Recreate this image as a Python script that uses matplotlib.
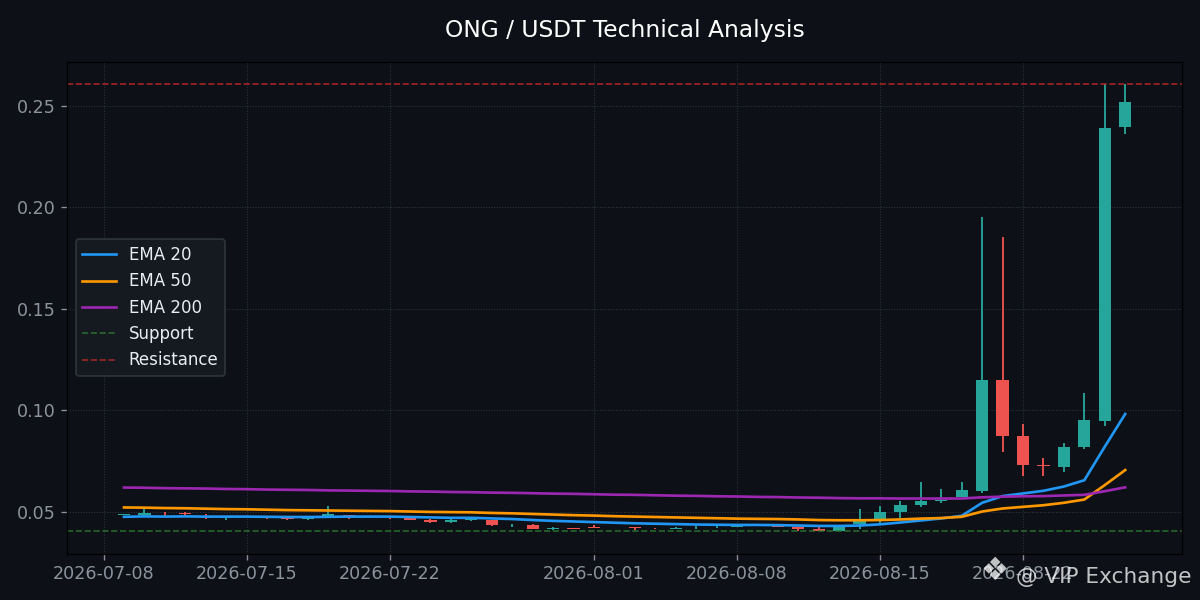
import matplotlib
matplotlib.use("Agg")
import matplotlib.pyplot as plt
import matplotlib.dates as mdates
import pandas as pd

# daily candles 2026-07-09 .. 2026-08-27
dates = pd.date_range("2026-07-09", "2026-08-27", freq="D")

opens = [0.0484, 0.0483, 0.0480, 0.0494, 0.0475, 0.0470, 0.0476, 0.0474, 0.0470, 0.0467,
         0.0479, 0.0486, 0.0479, 0.0477, 0.0470, 0.0460, 0.0451, 0.0460, 0.0460, 0.0434,
         0.0434, 0.0416, 0.0421, 0.0424, 0.0421, 0.0424, 0.0418, 0.0418, 0.0420, 0.0427,
         0.0425, 0.0434, 0.0430, 0.0424, 0.0414, 0.0406, 0.0439, 0.0465, 0.0501, 0.0533,
         0.0553, 0.0573, 0.0604, 0.1150, 0.0875, 0.0732, 0.0723, 0.0821, 0.0949, 0.2392]
highs = [0.0489, 0.0514, 0.0502, 0.0499, 0.0488, 0.0476, 0.0478, 0.0476, 0.0472, 0.0482,
         0.0527, 0.0487, 0.0481, 0.0478, 0.0471, 0.0466, 0.0466, 0.0471, 0.0461, 0.0440,
         0.0440, 0.0424, 0.0422, 0.0437, 0.0423, 0.0425, 0.0419, 0.0424, 0.0430, 0.0434,
         0.0431, 0.0438, 0.0431, 0.0425, 0.0424, 0.0430, 0.0512, 0.0527, 0.0552, 0.0645,
         0.0615, 0.0645, 0.1950, 0.1852, 0.0934, 0.0764, 0.0841, 0.1087, 0.2605, 0.2605]
lows = [0.0484, 0.0482, 0.0473, 0.0483, 0.0463, 0.0458, 0.0475, 0.0466, 0.0458, 0.0458,
        0.0478, 0.0467, 0.0475, 0.0465, 0.0458, 0.0446, 0.0446, 0.0455, 0.0429, 0.0424,
        0.0414, 0.0413, 0.0415, 0.0420, 0.0420, 0.0409, 0.0416, 0.0417, 0.0416, 0.0420,
        0.0424, 0.0432, 0.0426, 0.0408, 0.0404, 0.0405, 0.0416, 0.0445, 0.0470, 0.0524,
        0.0543, 0.0571, 0.0592, 0.0794, 0.0679, 0.0679, 0.0695, 0.0808, 0.0921, 0.2359]
closes = [0.0488, 0.0494, 0.0474, 0.0489, 0.0470, 0.0474, 0.0477, 0.0471, 0.0464, 0.0476,
          0.0489, 0.0482, 0.0477, 0.0473, 0.0459, 0.0451, 0.0460, 0.0469, 0.0434, 0.0434,
          0.0418, 0.0420, 0.0418, 0.0421, 0.0422, 0.0419, 0.0417, 0.0419, 0.0420, 0.0427,
          0.0430, 0.0436, 0.0427, 0.0414, 0.0406, 0.0429, 0.0455, 0.0498, 0.0532, 0.0552,
          0.0561, 0.0606, 0.1150, 0.0875, 0.0733, 0.0727, 0.0821, 0.0954, 0.2387, 0.2515]

ema20 = [0.0476, 0.0478, 0.0477, 0.0478, 0.0477, 0.0477, 0.0477, 0.0476, 0.0475, 0.0475,
         0.0476, 0.0477, 0.0477, 0.0477, 0.0475, 0.0473, 0.0471, 0.0471, 0.0468, 0.0465,
         0.0460, 0.0456, 0.0453, 0.0450, 0.0447, 0.0444, 0.0442, 0.0440, 0.0438, 0.0437,
         0.0436, 0.0436, 0.0435, 0.0433, 0.0431, 0.0431, 0.0433, 0.0439, 0.0448, 0.0458,
         0.0468, 0.0481, 0.0545, 0.0578, 0.0591, 0.0604, 0.0625, 0.0656, 0.0821, 0.0982]
ema50 = [0.0522, 0.0521, 0.0519, 0.0518, 0.0516, 0.0514, 0.0513, 0.0511, 0.0509, 0.0508,
         0.0507, 0.0506, 0.0505, 0.0504, 0.0502, 0.0500, 0.0499, 0.0498, 0.0495, 0.0493,
         0.0490, 0.0487, 0.0484, 0.0482, 0.0479, 0.0477, 0.0475, 0.0473, 0.0471, 0.0469,
         0.0467, 0.0466, 0.0465, 0.0463, 0.0460, 0.0459, 0.0459, 0.0460, 0.0463, 0.0467,
         0.0470, 0.0476, 0.0502, 0.0517, 0.0525, 0.0533, 0.0545, 0.0561, 0.0632, 0.0706]
ema200 = [0.0620, 0.0619, 0.0617, 0.0616, 0.0615, 0.0613, 0.0612, 0.0610, 0.0609, 0.0608,
          0.0606, 0.0605, 0.0604, 0.0603, 0.0601, 0.0600, 0.0598, 0.0597, 0.0595, 0.0594,
          0.0592, 0.0590, 0.0589, 0.0587, 0.0585, 0.0584, 0.0582, 0.0580, 0.0579, 0.0577,
          0.0576, 0.0574, 0.0573, 0.0571, 0.0570, 0.0568, 0.0567, 0.0567, 0.0566, 0.0566,
          0.0566, 0.0566, 0.0572, 0.0575, 0.0577, 0.0578, 0.0581, 0.0584, 0.0602, 0.0621]

support = 0.0404
resistance = 0.2605

bg = "#0d1117"
up_col = "#26a69a"
down_col = "#ef5350"
tick_col = "#8b949e"

fig, ax = plt.subplots(figsize=(10, 5), dpi=120)
fig.patch.set_facecolor(bg)
ax.set_facecolor(bg)

# candles
for d, o, h, l, c in zip(dates, opens, highs, lows, closes):
    col = up_col if c >= o else down_col
    ax.vlines(d, l, h, color=col, linewidth=1.1, zorder=2)
    ax.bar(d, abs(c - o), bottom=min(o, c), width=0.6, color=col, linewidth=0, zorder=2)

ax.plot(dates, ema20, color="#2196f3", linewidth=1.6, label="EMA 20", zorder=3)
ax.plot(dates, ema50, color="#ff9800", linewidth=1.6, label="EMA 50", zorder=3)
ax.plot(dates, ema200, color="#9c27b0", linewidth=1.6, label="EMA 200", zorder=3)
ax.axhline(support, color="#2e7d32", linestyle="--", linewidth=1, alpha=0.8, label="Support")
ax.axhline(resistance, color="#c62828", linestyle="--", linewidth=1, alpha=0.8, label="Resistance")

ax.set_title("ONG / USDT Technical Analysis", color="white", fontsize=14, pad=15)
ax.xaxis.set_major_locator(mdates.DayLocator(bymonthday=[1, 8, 15, 22]))
ax.xaxis.set_major_formatter(mdates.DateFormatter("%Y-%m-%d"))
ax.tick_params(colors=tick_col, labelsize=10.5)
ax.grid(True, color="#444c56", linestyle=":", linewidth=0.6, alpha=0.6)
for s in ax.spines.values():
    s.set_color("black")

leg = ax.legend(loc="center left", facecolor="#161b22", edgecolor="#30363d", framealpha=0.95)
for t in leg.get_texts():
    t.set_color("#e6edf3")

fig.subplots_adjust(left=0.056, right=0.985, bottom=0.077, top=0.897)

# watermark (sits over the last date label, as in the original)
fig.text(0.841, 0.022, "❖", color="white", alpha=0.75, fontsize=19, ha="right", va="bottom")
fig.text(0.993, 0.022, "@ VIP Exchange", color="white", alpha=0.75, fontsize=13,
         ha="right", va="bottom")

plt.savefig("out.png", dpi=120, facecolor=bg)
